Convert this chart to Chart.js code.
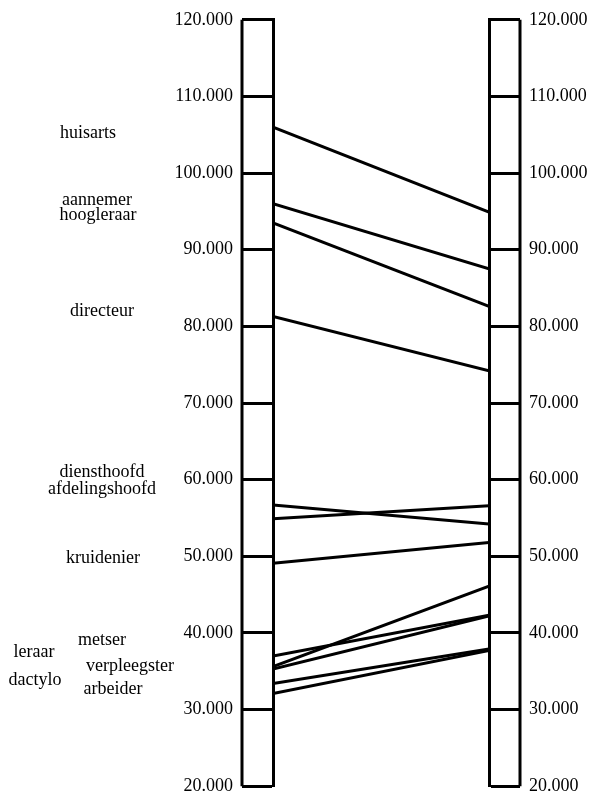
<!DOCTYPE html>
<html>
<head>
<meta charset="utf-8">
<script src="https://cdn.jsdelivr.net/npm/chart.js@4/dist/chart.umd.min.js"></script>
<style>
    html, body { margin: 0; padding: 0; background: #fff; overflow: hidden; }
    #wrap { width: 590px; height: 806px; }
</style>
</head>
<body>
<div id="wrap"><canvas id="incomeChart"></canvas></div>
<script>
// occupations, income on the left scale and on the right scale
const occupations = ['huisarts', 'aannemer', 'hoogleraar', 'directeur', 'diensthoofd', 'afdelingshoofd',
    'kruidenier', 'metser', 'leraar', 'verpleegster', 'dactylo', 'arbeider'];
const leftValues  = [106000, 96000, 93500, 81300, 56700, 54900, 49100, 37000, 35600, 35300, 33400, 32100];
const rightValues = [94900, 87500, 82600, 74200, 54200, 56600, 51800, 42300, 46100, 42200, 37900, 37700];
const tickValues = [20000, 30000, 40000, 50000, 60000, 70000, 80000, 90000, 100000, 110000, 120000];

// where the names sit (value on the y scale, centre x in px)
const labelAt = [105250, 96500, 94500, 82000, 61000, 58700, 49700, 39100, 37500, 35700, 33800, 32600];
const labelX  = [88, 97, 98, 102, 102, 102, 103, 102, 34, 130, 35, 113];

const FONT = '"Liberation Serif", "DejaVu Serif", serif';

function fmt(v) {
    return (v / 1000) + '.000';
}

const datasets = occupations.map((name, i) => ({
    label: name,
    data: [{ x: 0, y: leftValues[i] }, { x: 1, y: rightValues[i] }],
    borderColor: '#000',
    borderWidth: 3,
    pointRadius: 0,
    showLine: true,
    fill: false
}));

// outer edges of the two rulers + occupation names
const rulerPlugin = {
    id: 'rulers',
    afterDraw(chart) {
        const ctx = chart.ctx;
        const y = chart.scales.y;
        const top = y.getPixelForValue(120000);
        const bottom = y.getPixelForValue(20000);
        const area = chart.chartArea;
        ctx.save();
        ctx.strokeStyle = '#000';
        ctx.lineWidth = 3;
        ctx.beginPath();
        ctx.moveTo(area.left - 31, top);
        ctx.lineTo(area.left - 31, bottom);
        ctx.moveTo(area.right + 31, top);
        ctx.lineTo(area.right + 31, bottom);
        ctx.stroke();

        ctx.fillStyle = '#000';
        ctx.font = '18px ' + FONT;
        ctx.textAlign = 'center';
        ctx.textBaseline = 'middle';
        occupations.forEach((name, i) => {
            ctx.fillText(name, labelX[i], y.getPixelForValue(labelAt[i]));
        });
        ctx.restore();
    }
};

const axisCommon = {
    type: 'linear',
    min: 20000,
    max: 120000,
    afterBuildTicks: axis => { axis.ticks = tickValues.map(v => ({ value: v })); },
    ticks: {
        color: '#000',
        padding: 9,
        font: { family: FONT, size: 18 },
        callback: v => fmt(v)
    },
    grid: {
        drawOnChartArea: false,
        drawTicks: true,
        tickLength: 31,
        tickWidth: 3,
        tickColor: '#000'
    },
    border: { display: true, color: '#000', width: 3 }
};

new Chart(document.getElementById('incomeChart'), {
    type: 'scatter',
    data: { datasets: datasets },
    plugins: [rulerPlugin],
    options: {
        responsive: true,
        maintainAspectRatio: false,
        animation: false,
        layout: { padding: { top: 19, bottom: 8 } },
        plugins: {
            legend: { display: false },
            tooltip: { enabled: false }
        },
        scales: {
            x: { type: 'linear', min: 0, max: 1, display: false },
            y: Object.assign({}, axisCommon, {
                position: 'left',
                afterFit: s => { s.width = 273; }
            }),
            y2: Object.assign({}, axisCommon, {
                position: 'right',
                afterFit: s => { s.width = 101; }
            })
        }
    }
});
</script>
</body>
</html>
